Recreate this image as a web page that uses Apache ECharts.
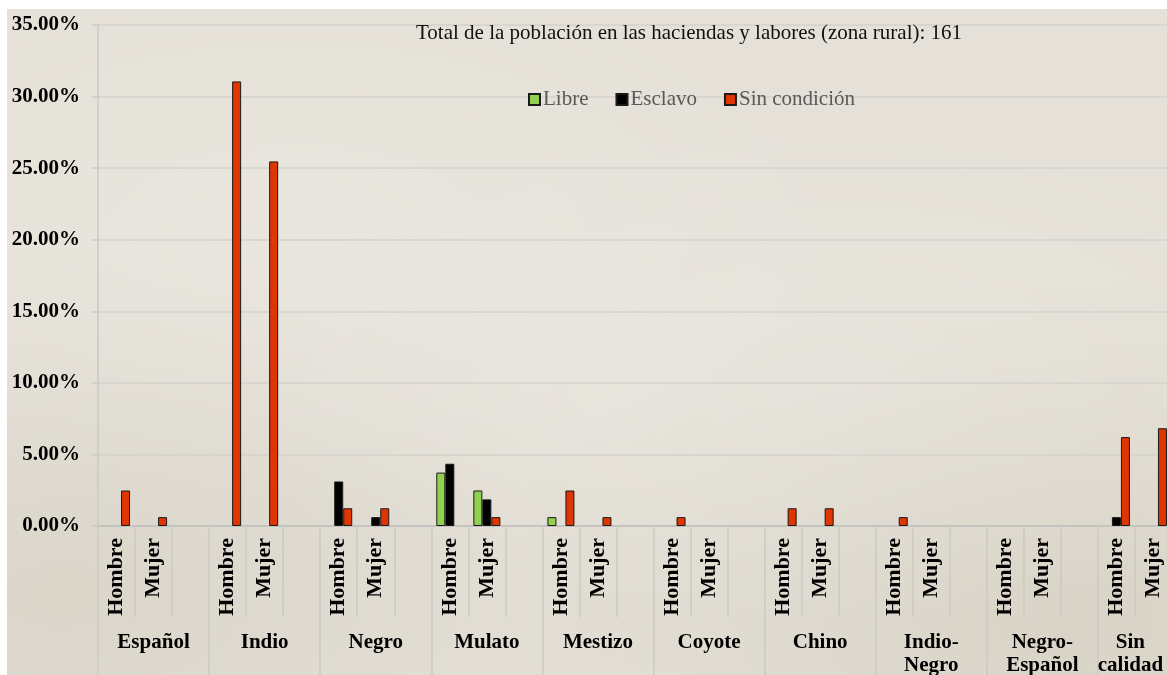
<!DOCTYPE html>
<html>
<head>
    <meta charset="utf-8">
    <title>index</title>
    <style>
        html, body { margin: 0; padding: 0; background: #fff; }
        #paper {
            position: absolute; left: 7px; top: 9px; width: 1160px; height: 666px;
            background-color: #e5e1d8;
            background-image:
                radial-gradient(ellipse at 25% 35%, rgba(255,255,255,0.18), rgba(255,255,255,0) 45%),
                radial-gradient(ellipse at 70% 55%, rgba(255,255,255,0.15), rgba(255,255,255,0) 50%),
                radial-gradient(ellipse at 92% 92%, rgba(190,180,160,0.3), rgba(190,180,160,0) 40%),
                radial-gradient(ellipse at 5% 88%, rgba(190,180,160,0.25), rgba(190,180,160,0) 40%);
        }
        #container { position: absolute; left: 0; top: 0; width: 1167px; height: 675px; }
    </style>
</head>
<body>
    <div id="paper"></div>
    <div id="container"></div>
</body>
<script src="https://cdn.jsdelivr.net/npm/echarts@6/dist/echarts.min.js"></script>
<script type="text/javascript">
    // grupos y subcategorias (la tercera es un hueco vacio)
    var grupos = ['Español', 'Indio', 'Negro', 'Mulato', 'Mestizo', 'Coyote', 'Chino', 'Indio-\nNegro', 'Negro-\nEspañol', 'Sin\ncalidad'];
    var subcats = [];
    grupos.forEach(function () { subcats.push('Hombre', 'Mujer', ''); });

    // porcentajes (161 personas) - null = sin barra
    var libre = [
        null, null, null,   null, null, null,   null, null, null,   3.73, 2.48, null,   0.62, null, null,
        null, null, null,   null, null, null,   null, null, null,   null, null, null,   null, null, null
    ];
    var esclavo = [
        null, null, null,   null, null, null,   3.11, 0.62, null,   4.35, 1.86, null,   null, null, null,
        null, null, null,   null, null, null,   null, null, null,   null, null, null,   0.62, null, null
    ];
    var sinCondicion = [
        2.48, 0.62, null,   31.06, 25.47, null,   1.24, 1.24, null,   null, 0.62, null,   2.48, 0.62, null,
        0.62, null, null,   1.24, 1.24, null,   0.62, null, null,   null, null, null,   6.21, 6.83, null
    ];

    var serif = "'Liberation Serif', 'Times New Roman', serif";
    var gridCol = '#cbc9c4';

    var dom = document.getElementById("container");
    var myChart = echarts.init(dom, null, { renderer: 'canvas' });

    function serie(name, data, color) {
        return {
            name: name,
            type: 'bar',
            data: data,
            barGap: '0%',
            barCategoryGap: '27%',
            itemStyle: { color: color, borderColor: '#1a1a1a', borderWidth: 1 }
        };
    }

    // el ultimo grupo queda cortado por el borde: se corre un poco a la izquierda
    var gruposData = grupos.map(function (g, i) {
        if (i === grupos.length - 1) {
            return { value: g, textStyle: { padding: [0, 46, 0, 0] } };
        }
        return g;
    });

    var option = {
        backgroundColor: 'transparent',
        animation: false,
        title: {
            text: 'Total de la población en las haciendas y labores (zona rural): 161',
            left: 411, top: 18,
            textStyle: { fontFamily: serif, fontSize: 21, fontWeight: 'normal', color: '#111' }
        },
        legend: {
            left: 523, top: 84,
            icon: 'rect', itemWidth: 11, itemHeight: 11, itemGap: 27,
            textStyle: { fontFamily: serif, fontSize: 21, color: '#595959', padding: [0, 0, 0, -2] },
            data: ['Libre', 'Esclavo', 'Sin condición']
        },
        grid: { left: 98, top: 25, width: 1111, height: 501, outerBoundsMode: 'none', containLabel: false },
        xAxis: [{
            type: 'category',
            position: 'bottom',
            data: subcats,
            axisLine: { lineStyle: { color: '#c4c3c0', width: 2 } },
            axisTick: { show: true, interval: 0, length: 91, lineStyle: { color: gridCol, width: 1.5 } },
            axisLabel: {
                interval: 0, rotate: 90, margin: 12,
                fontFamily: serif, fontSize: 22, fontWeight: 'bold', color: '#000'
            },
            splitLine: { show: false }
        }, {
            type: 'category',
            position: 'bottom',
            data: gruposData,
            axisLine: { show: false },
            axisTick: { show: true, interval: 0, length: 150, lineStyle: { color: gridCol, width: 1.5 } },
            axisLabel: {
                interval: 0, margin: 105, lineHeight: 23,
                fontFamily: serif, fontSize: 21, fontWeight: 'bold', color: '#000'
            },
            splitLine: { show: false }
        }],
        yAxis: {
            type: 'value',
            min: 0, max: 35, interval: 5,
            axisLine: { show: true, lineStyle: { color: gridCol, width: 1.5 } },
            axisTick: { show: true, length: 6, lineStyle: { color: gridCol, width: 1.5 } },
            axisLabel: {
                margin: 18,
                fontFamily: serif, fontSize: 21, fontWeight: 'bold', color: '#000',
                formatter: function (v) { return v.toFixed(2) + '%'; }
            },
            splitLine: { lineStyle: { color: '#d4d2cd', width: 1.5 } }
        },
        series: [
            serie('Libre', libre, '#92d050'),
            serie('Esclavo', esclavo, '#000000'),
            serie('Sin condición', sinCondicion, '#df3500')
        ]
    };

    myChart.setOption(option, true);
</script>
</html>
